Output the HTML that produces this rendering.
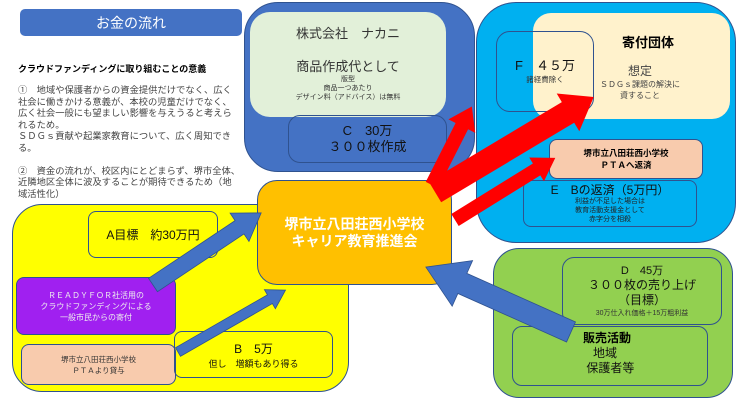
<!DOCTYPE html>
<html><head><meta charset="utf-8"><style>
html,body{margin:0;padding:0;background:#fff;}
body{width:736px;height:409px;position:relative;overflow:hidden;font-family:"Liberation Sans","Noto Sans CJK JP",sans-serif;color:#222;}
.a{position:absolute;box-sizing:border-box;}
.c{display:flex;flex-direction:column;align-items:center;justify-content:center;text-align:center;}
.ol{border:1px solid #2f528f;}
</style></head><body>
<div class="a c" style="left:20px;top:9px;width:222px;height:27px;background:#4472c4;border-radius:5px;color:#fff;font-size:14px;">お金の流れ</div>
<div class="a" style="left:18px;top:62px;width:230px;font-size:9px;font-weight:bold;color:#000;">クラウドファンディングに取り組むことの意義</div>
<div class="a" style="left:18px;top:85px;width:230px;font-size:9.3px;line-height:11.6px;color:#444;white-space:nowrap;">①　地域や保護者からの資金提供だけでなく、広く<br>社会に働きかける意義が、本校の児童だけでなく、<br>広く社会一般にも望ましい影響を与えうると考えら<br>れるため。<br>ＳＤＧｓ貢献や起業家教育について、広く周知でき<br>る。<br><div style="height:11px"></div>②　資金の流れが、校区内にとどまらず、堺市全体、<br>近隣地区全体に波及することが期待できるため（地<br>域活性化）</div>

<!-- blue company box -->
<div class="a" style="left:244px;top:2px;width:231px;height:170px;background:#4472c4;border-radius:34px;border:1px solid #2f528f;"></div>
<div class="a c" style="left:250px;top:12px;width:196px;height:105px;background:#e2f0d9;border-radius:20px;color:#333;">
<div style="font-size:13px;margin-top:-4px">株式会社　ナカニ</div>
<div style="font-size:13px;margin-top:14px">商品作成代として</div>
<div style="font-size:7px;line-height:9px">版型<br>商品一つあたり<br>デザイン料（アドバイス）は無料</div></div>
<div class="a c ol" style="left:288px;top:115px;width:159px;height:48px;border-radius:12px;font-size:13px;line-height:16px;color:#111;">C　30万<br>３００枚作成</div>

<!-- cyan -->
<div class="a" style="left:476px;top:2px;width:260px;height:241px;background:#00b0f0;border-radius:40px;border:1px solid #2f528f;"></div>
<div class="a" style="left:533px;top:13px;width:197px;height:106px;background:#fff2cc;border-radius:18px;"></div>
<div class="a" style="left:598px;top:32px;width:100px;font-size:13px;font-weight:bold;color:#000;text-align:center;">寄付団体</div>
<div class="a c" style="left:560px;top:62px;width:160px;color:#444;"><div style="font-size:12px">想定</div><div style="font-size:8px;line-height:11px">ＳＤＧｓ課題の解決に<br>資すること</div></div>
<div class="a ol" style="left:496px;top:31px;width:98px;height:81px;border-radius:14px;"></div>
<div class="a c" style="left:496px;top:55px;width:98px;color:#111;"><div style="font-size:13px">F　４５万</div><div style="font-size:7.5px;color:#333">諸経費除く</div></div>
<div class="a c ol" style="left:549px;top:139px;width:154px;height:40px;background:#f8cbad;border-radius:8px;font-size:8.5px;font-weight:bold;line-height:12px;color:#000;">堺市立八田荘西小学校<br>ＰＴＡへ返済</div>
<div class="a c ol" style="left:523px;top:180px;width:174px;height:47px;border-radius:8px;color:#111;"><div style="font-size:12px;line-height:14px">E　Bの返済（5万円）</div><div style="font-size:7px;line-height:9px;color:#222">利益が不足した場合は<br>教育活動支援金として<br>赤字分を相殺</div></div>

<!-- yellow -->
<div class="a" style="left:12px;top:204px;width:337px;height:188px;background:#ffff00;border-radius:30px;border:1px solid #2f528f;"></div>
<div class="a c ol" style="left:88px;top:211px;width:130px;height:47px;border-radius:8px;font-size:12px;color:#111;">A目標　約30万円</div>
<div class="a c ol" style="left:16px;top:277px;width:160px;height:58px;background:#a020f0;border-radius:8px;font-size:8px;line-height:11px;color:#eee;">ＲＥＡＤＹＦＯＲ社活用の<br>クラウドファンディングによる<br>一般市民からの寄付</div>
<div class="a c ol" style="left:21px;top:344px;width:155px;height:41px;background:#f8cbad;border-radius:8px;font-size:7.5px;line-height:11px;color:#333;">堺市立八田荘西小学校<br>ＰＴＡより貸与</div>
<div class="a c ol" style="left:174px;top:331px;width:159px;height:47px;border-radius:8px;color:#111;"><div style="font-size:12px">B　5万</div><div style="font-size:9px">但し　増額もあり得る</div></div>

<!-- green -->
<div class="a" style="left:493px;top:248px;width:240px;height:150px;background:#92d050;border-radius:26px;border:1px solid #2f528f;"></div>
<div class="a c ol" style="left:562px;top:257px;width:160px;height:68px;border-radius:12px;color:#111;"><div style="font-size:11px;line-height:13px">D　45万</div><div style="font-size:12px;line-height:15px">３００枚の売り上げ<br>（目標）</div><div style="font-size:7px;color:#333">30万仕入れ価格＋15万粗利益</div></div>
<div class="a ol" style="left:512px;top:326px;width:196px;height:60px;border-radius:10px;"></div>
<div class="a" style="left:583px;top:331px;width:80px;font-size:12px;line-height:15px;color:#111;"><b style="color:#000">販売活動</b><br>&nbsp;&nbsp;&nbsp;地域<br>&nbsp;保護者等</div>

<!-- center -->
<div class="a c" style="left:257px;top:180px;width:195px;height:105px;background:#ffc000;border-radius:20px;border:1px solid #2f528f;color:#fff;font-weight:bold;font-size:14px;line-height:17px;">堺市立八田荘西小学校<br>キャリア教育推進会</div>

<svg class="a" style="left:0;top:0" width="736" height="409">
<g fill="#ff0000">
<polygon transform="translate(432,185) rotate(-63.1)" points="0,-7 66,-7 66,-15 88,0 66,15 66,7 0,7"/>
<polygon transform="translate(435,192) rotate(-30.9)" points="0,-12 155,-12 155,-22 185,0 155,22 155,12 0,12"/>
<polygon transform="translate(455,220) rotate(-31.8)" points="0,-7 96,-7 96,-14 118,0 96,14 96,7 0,7"/>
</g>
<g fill="#4472c4" stroke="#2f528f" stroke-width="0.8">
<polygon transform="translate(153,285) rotate(-33.7)" points="0,-8 104,-8 104,-17 130,0 104,17 104,8 0,8"/>
<polygon transform="translate(178,352) rotate(-29.9)" points="0,-5 106,-5 106,-11 124,0 106,11 106,5 0,5"/>
<polygon transform="translate(571,332) rotate(204.1)" points="0,-11 119,-11 119,-25 159,0 119,25 119,11 0,11"/>
</g>
</svg>
</body></html>
